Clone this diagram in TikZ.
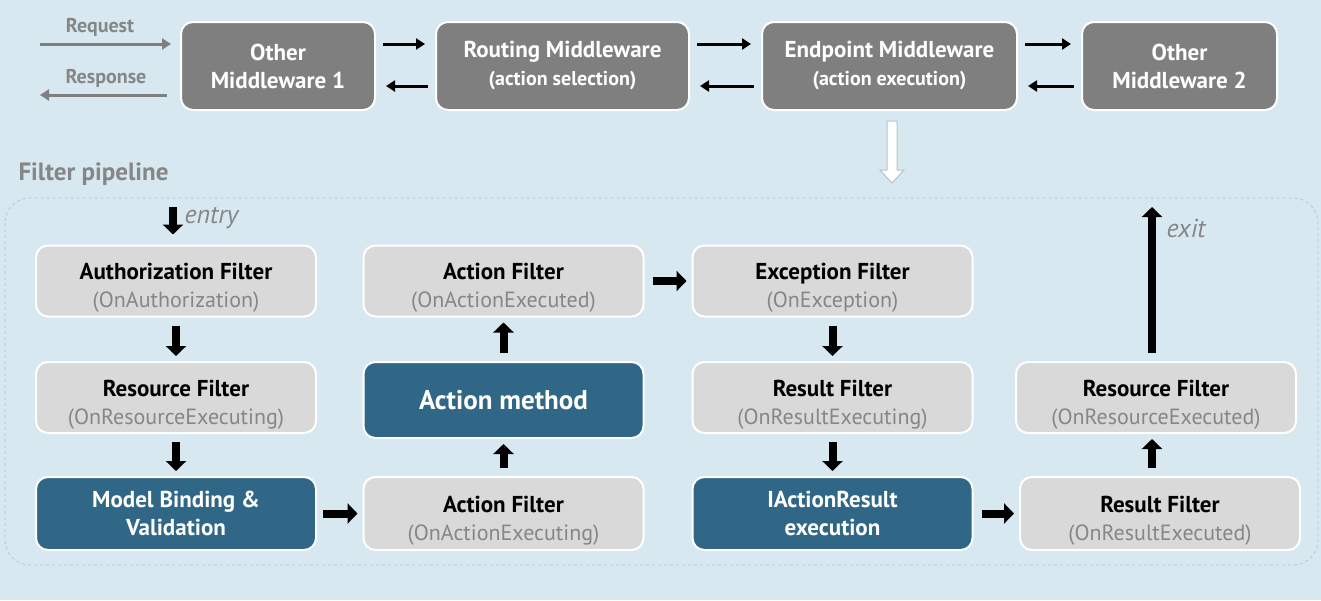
\documentclass[tikz,border=0pt]{standalone}
\usepackage{fontspec}
\setmainfont{PT Sans}
\usetikzlibrary{arrows.meta,positioning}
\usepackage{color}

\definecolor{bgblue}{RGB}{215,232,241}
\definecolor{midgray}{RGB}{127,127,127}
\definecolor{boxgray}{RGB}{217,217,217}
\definecolor{subgray}{RGB}{134,134,134}
\definecolor{coreblue}{RGB}{49,103,134}
\definecolor{framegray}{RGB}{184,196,204}

\newcommand{\ftitle}[1]{\rule{0pt}{30pt}#1}
\newcommand{\subline}[1]{{\color{subgray}\mdseries\fontsize{22}{28}\selectfont #1}}

\begin{document}
\begin{tikzpicture}[x=1pt,y=-1pt,
  topbox/.style={draw=white,line width=2pt,fill=midgray,rounded corners=12pt,
    text=white,font=\bfseries\fontsize{23}{28}\selectfont,align=center,
    minimum height=88pt,inner sep=0pt},
  corebox/.style={draw=white,line width=2pt,fill=coreblue,rounded corners=12pt,
    text=white,font=\bfseries\fontsize{23}{28}\selectfont,align=center,
    minimum width=280pt,minimum height=71pt,inner sep=0pt},
  filterbox/.style={corebox,fill=boxgray,text=black},
  thinarr/.style={line width=3pt,-{Triangle[width=11pt,length=9pt]},
    shorten <=7pt,shorten >=10pt},
  bigarr/.style={line width=8pt,-{Triangle[width=20pt,length=10pt]},
    shorten <=8pt,shorten >=5pt}]

\fill[bgblue] (0,0) rectangle (1321,600);
\useasboundingbox (0,0) rectangle (1321,600);

% middleware row
\node[topbox,minimum width=194pt] (om1) at (278,66) {Other\\Middleware 1};
\node[topbox,minimum width=253pt] (rm) at (562.5,66)
  {Routing Middleware\\{\fontsize{20}{28}\selectfont (action selection)}};
\node[topbox,minimum width=255pt] (em) at (889.5,66)
  {Endpoint Middleware\\{\fontsize{20}{28}\selectfont (action execution)}};
\node[topbox,minimum width=195pt] (om2) at (1179.5,66) {Other\\Middleware 2};

\coordinate (reqstart) at (40,44);
\coordinate (resend) at (40,95);
\draw[midgray,line width=3pt,-{Triangle[width=11pt,length=9pt]},shorten >=9pt]
  (reqstart) -- (reqstart -| om1.west);
\draw[midgray,line width=3pt,-{Triangle[width=11pt,length=9pt]},shorten <=13pt]
  (resend -| om1.west) -- (resend);
\node[text=subgray,font=\bfseries\fontsize{20}{24}\selectfont] (reqlbl) at (100,27) {Request};
\node[text=subgray,font=\bfseries\fontsize{20}{24}\selectfont] (reslbl) at (106,78) {Response};

\draw[thinarr] ([yshift=22pt]om1.east) -- ([yshift=22pt]rm.west);
\draw[thinarr] ([yshift=-20pt]rm.west) -- ([yshift=-20pt]om1.east);
\draw[thinarr] ([yshift=22pt]rm.east) -- ([yshift=22pt]em.west);
\draw[thinarr] ([yshift=-20pt]em.west) -- ([yshift=-20pt]rm.east);
\draw[thinarr] ([yshift=22pt]em.east) -- ([yshift=22pt]om2.west);
\draw[thinarr] ([yshift=-20pt]om2.west) -- ([yshift=-20pt]em.east);

% hollow arrow into the pipeline
\draw[draw=framegray,fill=white,line width=1pt]
  (887,121) -- (897,121) -- (897,170) -- (904,170) -- (892,183)
  -- (880,170) -- (887,170) -- cycle;

% filter pipeline
\node[anchor=west,text=subgray,font=\bfseries\fontsize{25}{30}\selectfont] (pipelbl)
  at (15,174) {Filter pipeline};
\draw[framegray,dashed,line width=0.8pt,rounded corners=25pt] (5,198) rectangle (1318,565);

\node[filterbox] (auth) at (176,281) {\ftitle{Authorization Filter}\\\subline{(OnAuthorization)}};
\node[filterbox] (res) at (176,397.5) {\ftitle{Resource Filter}\\\subline{(OnResourceExecuting)}};
\node[corebox,minimum height=73pt] (mb) at (176,513.5) {Model Binding \&\\Validation};
\node[filterbox,minimum height=73pt] (afx) at (503.5,513.5) {\ftitle{Action Filter}\\\subline{(OnActionExecuting)}};
\node[corebox,minimum height=76pt,font=\bfseries\fontsize{27}{30}\selectfont] (am) at (503.5,400) {Action method};
\node[filterbox] (afd) at (503.5,281) {\ftitle{Action Filter}\\\subline{(OnActionExecuted)}};
\node[filterbox] (ex) at (832.5,281) {\ftitle{Exception Filter}\\\subline{(OnException)}};
\node[filterbox] (rfx) at (832.5,397.5) {\ftitle{Result Filter}\\\subline{(OnResultExecuting)}};
\node[corebox,minimum height=73pt] (iar) at (832.5,513.5) {IActionResult\\execution};
\node[filterbox,minimum height=73pt] (rfd) at (1160,513.5) {\ftitle{Result Filter}\\\subline{(OnResultExecuted)}};
\node[filterbox] (rsd) at (1156,397.5) {\ftitle{Resource Filter}\\\subline{(OnResourceExecuted)}};

\coordinate (entrypt) at (173,207);
\coordinate (exitpt) at (1152,207);
\draw[bigarr,shorten <=0pt,shorten >=10pt] (entrypt) -- (auth.north -| entrypt);
\node[anchor=west,text=subgray,font=\itshape\fontsize{26}{30}\selectfont] (entrylbl)
  at (181,218) {entry};
\draw[bigarr] (auth) -- (res);
\draw[bigarr] (res) -- (mb);
\draw[bigarr,shorten <=6pt] (mb) -- (afx);
\draw[bigarr] (afx) -- (am);
\draw[bigarr] (am) -- (afd);
\draw[bigarr] (afd) -- (ex);
\draw[bigarr] (ex) -- (rfx);
\draw[bigarr] (rfx) -- (iar);
\draw[bigarr] (iar) -- (rfd);
\draw[bigarr] (rfd.north -| exitpt) -- (rsd.south -| exitpt);
\draw[bigarr,shorten >=0pt] (rsd.north -| exitpt) -- (exitpt);
\node[anchor=west,text=subgray,font=\itshape\fontsize{26}{30}\selectfont] (exitlbl)
  at (1163,228) {exit};
\end{tikzpicture}
\end{document}
